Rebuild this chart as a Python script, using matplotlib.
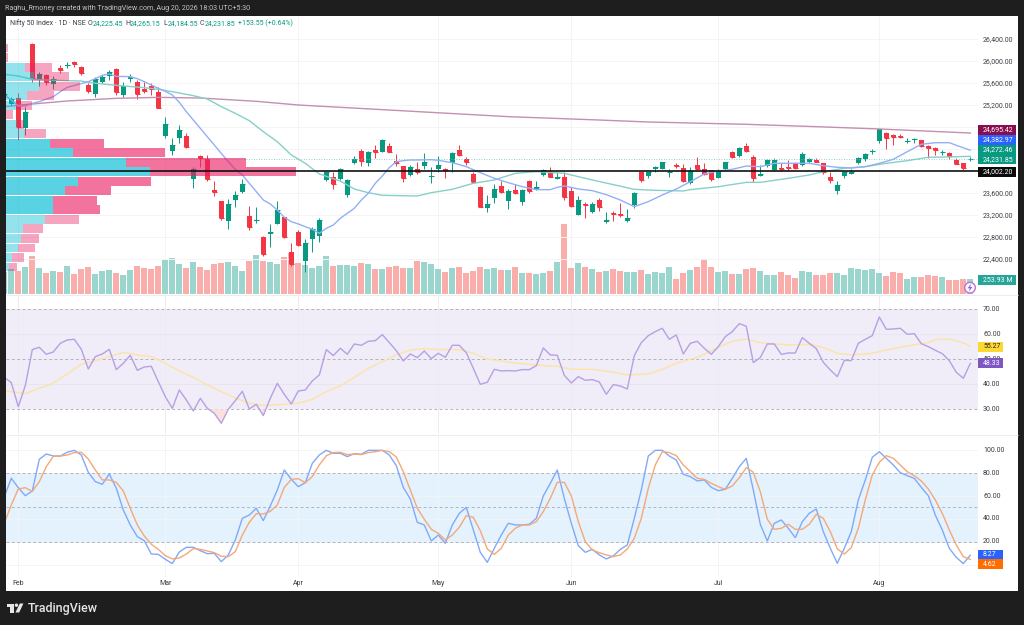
import matplotlib
matplotlib.use("Agg")
import matplotlib.pyplot as plt
from matplotlib.patches import Rectangle, Circle, Polygon
import numpy as np

opens = [25344, 25223, 25326, 24787, 26308, 25660, 25744, 25587, 25878, 25908,
         25993, 25890, 25563, 25405, 25623, 25732, 25866, 25393, 25672, 25623,
         25502, 25551, 25447, 24642, 24369, 24605, 24648, 23854, 24278, 24223,
         23660, 23454, 23102, 23478, 23617, 23187, 23096, 22811, 22866, 23048,
         23163, 22533, 22896, 22369, 22769, 22830, 23842, 23896, 23860, 23575,
         24145, 24375, 24157, 24381, 24357, 24466, 24193, 24090, 23933, 24036,
         24090, 23902, 24042, 24036, 24157, 24381, 24223, 23951, 23714, 23339,
         23514, 23726, 23466, 23666, 23448, 23817, 23666, 23926, 23981, 23866,
         23896, 23642, 23211, 23411, 23260, 23472, 23072, 23248, 23223, 23090,
         23387, 23987, 23914, 24042, 24048, 23981, 24114, 24060, 23787, 24114,
         24042, 24017, 23884, 24036, 24357, 24284, 24454, 24254, 23920, 24102,
         24017, 24060, 24084, 24132, 24114, 24175, 24199, 24145, 23902, 23642,
         23914, 23957, 24157, 24223, 24351, 24557, 24696, 24660, 24642, 24526,
         24569, 24563, 24460, 24423, 24345, 24338, 24211, 24145, 24225.45]
closes = [25399, 25308, 24799, 25072, 25702, 25769, 25623, 25678, 25841, 25932,
          25944, 25793, 25454, 25672, 25708, 25805, 25435, 25557, 25708, 25411,
          25466, 25490, 25157, 24854, 24472, 24757, 24435, 24036, 24248, 23854,
          23623, 23145, 23399, 23575, 23769, 22993, 23114, 22502, 22902, 23296,
          22805, 22314, 22660, 22690, 22951, 23114, 23993, 23763, 24042, 23836,
          24223, 24193, 24345, 24351, 24569, 24357, 24145, 23884, 24078, 23981,
          24169, 23914, 24108, 24017, 24326, 24302, 24163, 23799, 23357, 23399,
          23684, 23629, 23642, 23605, 23654, 23636, 23708, 24017, 23902, 23896,
          23539, 23363, 23472, 23393, 23405, 23351, 23114, 23223, 23199, 23157,
          23611, 23842, 23981, 24078, 24163, 23993, 24102, 23817, 24011, 24042,
          23945, 23854, 24011, 24163, 24260, 24423, 24375, 23872, 23951, 24199,
          24205, 24036, 24066, 24054, 24320, 24229, 24175, 23987, 23848, 23757,
          23987, 23987, 24242, 24308, 24375, 24763, 24599, 24617, 24630, 24557,
          24581, 24460, 24417, 24381, 24357, 24284, 24139, 24060, 24231.85]
highs = [25448, 25357, 25429, 25175, 26338, 25811, 25769, 25732, 25926, 25981,
         26005, 25914, 25611, 25708, 25750, 25841, 25878, 25629, 25769, 25660,
         25629, 25599, 25526, 24981, 24599, 24841, 24690, 24084, 24302, 24296,
         23829, 23466, 23490, 23648, 23860, 23369, 23345, 22830, 23042, 23454,
         23175, 22702, 22933, 22769, 22981, 23145, 24011, 23993, 24060, 23854,
         24278, 24399, 24363, 24478, 24587, 24508, 24308, 24102, 24114, 24175,
         24326, 24084, 24278, 24066, 24345, 24478, 24254, 23993, 23732, 23569,
         23763, 23823, 23678, 23769, 23678, 23842, 23823, 24048, 24084, 23981,
         23993, 23720, 23551, 23448, 23448, 23508, 23254, 23284, 23417, 23314,
         23629, 23993, 23993, 24102, 24175, 24036, 24157, 24126, 24084, 24254,
         24145, 24023, 24036, 24175, 24375, 24435, 24514, 24296, 24114, 24217,
         24248, 24145, 24205, 24163, 24345, 24248, 24248, 24157, 23981, 23823,
         24005, 24036, 24266, 24326, 24411, 24775, 24708, 24678, 24672, 24611,
         24611, 24575, 24478, 24435, 24393, 24351, 24248, 24157, 24265.15]
lows = [25296, 25187, 24569, 24660, 25629, 25551, 25569, 25490, 25781, 25872,
        25890, 25750, 25429, 25357, 25599, 25660, 25387, 25357, 25629, 25320,
        25429, 25387, 25144, 24599, 24296, 24520, 24417, 23690, 24084, 23829,
        23551, 23114, 22951, 23345, 23599, 22933, 23054, 22460, 22630, 23036,
        22793, 22278, 22642, 22175, 22539, 22720, 23823, 23678, 23842, 23539,
        24132, 24096, 24102, 24235, 24345, 24345, 24102, 23811, 23914, 23945,
        24048, 23793, 23993, 23884, 23993, 24278, 24114, 23781, 23345, 23254,
        23430, 23611, 23314, 23581, 23387, 23599, 23654, 23914, 23890, 23860,
        23478, 23351, 23199, 23151, 23248, 23272, 23060, 23096, 23175, 23072,
        23327, 23805, 23878, 23981, 24036, 23902, 24060, 23799, 23769, 24023,
        23933, 23829, 23872, 24023, 24248, 24266, 24351, 23799, 23908, 24084,
        23999, 24011, 23999, 24042, 24102, 24145, 24163, 23951, 23793, 23587,
        23878, 23951, 24139, 24193, 24308, 24514, 24411, 24478, 24599, 24514,
        24514, 24435, 24248, 24302, 24290, 24230, 24126, 24023, 24184.55]
volumes = [380, 425, 386, 465, 641, 442, 357, 386, 369, 476,
           340, 425, 459, 340, 386, 414, 352, 318, 408, 476,
           437, 425, 476, 578, 607, 510, 442, 539, 454, 414,
           510, 527, 550, 476, 397, 556, 669, 556, 550, 510,
           624, 697, 527, 499, 437, 482, 643, 471, 493, 499,
           471, 522, 510, 425, 431, 454, 471, 442, 442, 556,
           539, 510, 425, 380, 442, 454, 352, 391, 454, 425,
           437, 414, 403, 454, 357, 357, 346, 357, 391, 539,
           1191, 437, 522, 465, 425, 380, 391, 420, 391, 374,
           369, 408, 340, 369, 352, 454, 261, 352, 408, 465,
           595, 465, 369, 386, 340, 340, 425, 437, 397, 323,
           329, 369, 329, 272, 397, 369, 329, 323, 363, 352,
           329, 442, 431, 414, 420, 352, 312, 369, 357, 261,
           284, 284, 329, 312, 284, 232, 238, 249, 253.93]

ma_fast_idx = [0, 1, 2, 3, 4, 5, 7, 8, 9, 12, 13, 14, 15, 16, 18, 19, 20, 22, 23, 24,
               25, 26, 27, 28, 29, 30, 31, 32, 33, 34, 35, 36, 37, 38, 39, 40, 41, 42, 43, 44,
               45, 46, 47, 48, 49, 50, 51, 52, 53, 54, 55, 56, 57, 58, 59, 61, 62, 64, 66, 68,
               70, 72, 74, 76, 78, 79, 80, 82, 84, 86, 88, 90, 92, 94, 96, 98, 100, 102, 104, 106,
               108, 110, 113, 115, 117, 119, 121, 123, 125, 127, 129, 131, 133, 135, 136, 138]
ma_fast = [25387, 25296, 25187, 25187, 25235, 25266, 25357, 25447, 25526, 25629, 25684, 25744, 25769, 25726, 25720, 25684, 25629, 25508, 25454, 25387,
           25254, 25084, 24932, 24781, 24629, 24478, 24326, 24175, 24036, 23933, 23781, 23630, 23478, 23405, 23296, 23163, 23084, 23042, 22993, 22945,
           22872, 22963, 23023, 23145, 23236, 23327, 23478, 23599, 23781, 23914, 24066, 24175, 24193, 24205, 24205, 24211, 24199, 24157, 24084, 23975,
           23872, 23793, 23720, 23666, 23666, 23708, 23733, 23678, 23648, 23575, 23478, 23357, 23448, 23569, 23678, 23811, 23951, 24005, 24036, 24096,
           24084, 24145, 24145, 24145, 24102, 24072, 24060, 24084, 24145, 24217, 24357, 24490, 24520, 24520, 24472, 24382.97]
ma_mid_idx = [0, 2, 4, 7, 11, 12, 14, 17, 20, 22, 24, 27, 29, 31, 33, 35, 37, 39, 41, 43,
              45, 48, 50, 52, 54, 59, 61, 64, 67, 70, 73, 76, 80, 84, 90, 93, 97, 98, 102, 106,
              108, 112, 115, 117, 120, 123, 126, 129, 132, 135, 138]
ma_mid = [25763, 25732, 25672, 25654, 25641, 25617, 25587, 25551, 25520, 25490, 25447, 25375, 25314, 25175, 25054, 24920, 24720, 24538, 24296, 24145,
          23951, 23823, 23678, 23611, 23563, 23551, 23611, 23672, 23781, 23842, 23963, 23993, 23963, 23842, 23672, 23654, 23642, 23666, 23720, 23799,
          23799, 23872, 23933, 23993, 24054, 24084, 24145, 24193, 24254, 24260, 24272.46]
ma_slow_idx = [0, 2, 4, 9, 16, 22, 28, 36, 42, 48, 60, 72, 85, 92, 106, 116, 125, 138]
ma_slow = [25175, 25199, 25223, 25278, 25326, 25344, 25332, 25272, 25205, 25163, 25078, 24993, 24932, 24896, 24854, 24811, 24769, 24695.42]

# visible range volume profile, one row per price bucket
vp_lows = [26160, 25987, 25814, 25641, 25468, 25295, 25122, 24949, 24776, 24603, 24430, 24257,
           24084, 23911, 23738, 23565, 23392, 23219, 23046, 22873, 22700, 22527, 22354, 22181]
vp_up = [0, 0, 56, 83, 100, 63, 30, 0, 33, 55, 131, 200,
         361, 433, 216, 178, 142, 142, 118, 52, 45, 36, 19, 10]
vp_down = [5, 5, 82, 105, 122, 82, 48, 21, 22, 66, 164, 277,
           358, 438, 220, 138, 132, 139, 102, 58, 53, 50, 34, 23]
vp_strong = [0, 0, 0, 0, 0, 0, 0, 0, 0, 0, 1, 1, 1, 1, 1, 1, 1, 1, 0, 0, 0, 0, 0, 0]

rsi = [42.8, 40.67, 31.07, 39.47, 53.87, 54.8, 52.0, 52.93, 56.4, 57.73,
       58.0, 54.0, 46.13, 51.07, 52.13, 54.0, 45.87, 48.4, 51.6, 45.6,
       46.93, 47.2, 41.07, 35.07, 30.4, 37.73, 33.73, 29.33, 34.4, 30.4,
       28.4, 24.4, 30.0, 33.47, 37.2, 30.13, 32.0, 27.47, 34.4, 40.4,
       36.0, 32.13, 37.33, 37.73, 41.33, 43.73, 53.87, 51.47, 54.4, 52.0,
       56.13, 55.6, 57.2, 57.47, 59.87, 56.67, 53.47, 49.33, 52.13, 50.67,
       53.33, 50.27, 52.4, 50.8, 55.6, 55.6, 52.67, 46.4, 40.0, 40.8,
       46.0, 45.33, 45.47, 45.33, 45.87, 45.87, 47.47, 54.53, 51.73, 51.6,
       43.6, 40.53, 43.07, 41.6, 41.87, 40.93, 36.0, 39.87, 39.33, 38.13,
       51.47, 56.67, 59.47, 61.07, 62.4, 58.0, 59.73, 52.13, 56.4, 57.2,
       54.4, 52.0, 55.07, 59.07, 61.07, 64.27, 63.2, 48.67, 50.67, 56.13,
       56.13, 52.0, 52.53, 52.53, 58.67, 56.4, 54.27, 48.8, 45.73, 43.07,
       49.6, 49.47, 56.4, 58.0, 59.47, 66.93, 62.0, 62.13, 62.4, 60.0,
       60.27, 56.27, 55.07, 53.6, 52.27, 49.47, 44.8, 42.4, 48.33]
rsi_ma_idx = [0, 3, 5, 7, 9, 11, 13, 15, 17, 19, 21, 23, 25, 27, 29, 31, 33, 35, 37, 40,
              42, 44, 46, 48, 50, 52, 54, 56, 58, 60, 62, 65, 67, 69, 71, 72, 77, 79, 81, 84,
              87, 89, 92, 94, 96, 99, 102, 104, 106, 108, 110, 112, 115, 117, 119, 121, 124, 126, 129, 132,
              133, 135, 137, 138]
rsi_ma = [37.47, 36.27, 38.4, 40.4, 44.13, 48.0, 49.47, 51.07, 52.8, 51.73, 51.07, 48.4, 45.33, 42.8, 39.73, 37.07, 34.53, 32.4, 31.47, 32.0,
          32.4, 34.0, 37.07, 39.33, 42.8, 46.4, 49.07, 51.73, 53.73, 54.27, 53.87, 53.87, 52.4, 50.13, 49.33, 48.8, 47.47, 47.2, 46.0, 46.0,
          44.8, 43.73, 44.13, 46.0, 48.4, 50.8, 54.8, 57.2, 58.13, 56.67, 56.13, 55.73, 56.0, 54.67, 52.4, 51.73, 52.4, 53.73, 55.33, 56.67,
          57.87, 58.13, 56.53, 55.27]

stoch_k = [59.5, 75.5, 67.3, 60.3, 64.4, 92.1, 96.8, 95.0, 95.0, 98.3,
           100, 95.9, 80.8, 72.6, 70.3, 79.3, 66.8, 47.8, 34.7, 24.5,
           21.0, 9.3, 9.0, 4.7, 0.9, 11.1, 15.2, 15.2, 12.2, 9.6,
           9.9, 2.6, 8.5, 21.6, 40.5, 43.4, 49.3, 38.5, 51.3, 65.3,
           82.8, 74.6, 68.2, 71.7, 88.6, 95.9, 100, 97.4, 97.4, 94.5,
           97.1, 96.5, 100, 100, 100, 95.9, 86.6, 67.6, 57.4, 37.0,
           34.7, 20.7, 25.9, 18.7, 34.7, 44.9, 50.1, 30.3, 10.8, 2.0,
           14.3, 25.9, 36.2, 34.7, 34.7, 35.3, 40.5, 60.1, 71.1, 82.8,
           58.0, 36.2, 16.6, 10.8, 13.4, 8.5, 5.0, 7.6, 13.4, 17.2,
           40.5, 65.3, 95.0, 100, 100, 95.0, 91.5, 79.0, 77.0, 73.2,
           74.1, 67.6, 64.7, 65.9, 75.5, 85.7, 93.0, 65.3, 35.3, 20.7,
           36.2, 39.1, 31.8, 23.6, 37.6, 44.9, 48.7, 28.9, 14.3, 1.2,
           14.3, 28.9, 56.6, 74.1, 93.9, 98.8, 93.0, 87.2, 80.5, 77.8,
           75.5, 67.6, 60.3, 43.4, 30.3, 14.3, 6.4, 0.9, 8.27]
stoch_d = [36.2, 52.2, 66.2, 67.3, 64.1, 72.6, 85.7, 94.8, 95.0, 95.9,
           98.0, 98.3, 92.4, 82.8, 74.1, 74.1, 72.0, 64.4, 49.3, 34.7,
           25.1, 17.8, 13.4, 7.9, 5.0, 5.8, 9.3, 14.0, 13.4, 12.0,
           10.5, 7.3, 7.0, 11.4, 25.9, 37.0, 44.6, 44.3, 46.6, 52.2,
           67.6, 74.6, 75.2, 71.7, 77.0, 87.2, 95.3, 98.0, 98.3, 96.2,
           96.8, 96.2, 98.0, 98.8, 100, 98.8, 94.2, 81.3, 65.3, 49.3,
           39.7, 30.9, 27.4, 21.6, 25.9, 32.7, 42.9, 41.4, 29.7, 13.7,
           9.0, 14.3, 25.9, 31.8, 34.7, 34.7, 37.6, 46.4, 58.0, 72.0,
           72.0, 60.3, 37.6, 20.1, 12.8, 10.5, 8.5, 7.0, 8.5, 13.7,
           23.0, 40.5, 66.8, 87.2, 98.8, 98.0, 95.3, 87.2, 81.3, 75.5,
           74.6, 71.1, 68.2, 65.9, 68.8, 76.1, 84.8, 80.8, 63.8, 39.7,
           30.9, 31.8, 35.3, 30.9, 30.9, 35.3, 44.0, 40.5, 28.9, 13.7,
           9.3, 14.9, 31.8, 56.6, 78.4, 89.5, 95.3, 93.0, 87.2, 81.3,
           77.8, 73.2, 66.2, 56.6, 44.9, 30.3, 17.2, 7.0, 4.62]

month_labels = ["Feb", "Mar", "Apr", "May", "Jun", "Jul", "Aug"]
month_idx = [2, 23, 42, 62, 81, 102, 125]
price_ticks = [22400, 22800, 23200, 23600, 24000, 24400, 24800, 25200, 25600, 26000, 26400]
rsi_ticks = [30, 40, 50, 60, 70]
stoch_ticks = [0, 20, 40, 60, 80, 100]

W, H = 1024, 625
UP = "#089981"
DOWN = "#F23645"
GRID = "#F4F4F5"
TICK = "#3A3D45"
FS = 5.0
plt.rcParams["font.family"] = ["Roboto", "DejaVu Sans"]

fig = plt.figure(figsize=(W / 100, H / 100), dpi=100, facecolor="#1E1E1E")


def pane(x0, y0, x1, y1, zorder=1):
    # axes placed by pixel box, y measured from the top
    ax = fig.add_axes([x0 / W, 1 - y1 / H, (x1 - x0) / W, (y1 - y0) / H], zorder=zorder)
    ax.set_xticks([])
    ax.set_yticks([])
    for s in ax.spines.values():
        s.set_visible(False)
    return ax


ui = pane(0, 0, W, H, zorder=5)
ui.set_xlim(0, W)
ui.set_ylim(H, 0)
ui.patch.set_alpha(0)
back = pane(6, 16, 1018, 591, zorder=0)
back.set_facecolor("white")

x = np.arange(len(closes))
XLIM = (0.243, 139.1)
PRICE_LIM = (21769, 26823)
PANE_L, PANE_R = 6, 978

# volume sits behind the candles
ax_vol = pane(PANE_L, 16, PANE_R, 294, zorder=1)
ax_vol.set_xlim(*XLIM)
ax_vol.set_ylim(0, 4726)
for m in month_idx:
    ax_vol.axvline(m, color=GRID, lw=0.7, zorder=0)
is_up = np.array(closes) >= np.array(opens)
ax_vol.bar(x, volumes, width=0.88, color=np.where(is_up, "#9AD6CE", "#F9AEAC"), zorder=2)

ax = pane(PANE_L, 16, PANE_R, 294, zorder=2)
ax.patch.set_alpha(0)
ax.set_xlim(*XLIM)
ax.set_ylim(*PRICE_LIM)
for p in price_ticks:
    ax.axhline(p, color=GRID, lw=0.7, zorder=0)
candle_colors = np.where(is_up, UP, DOWN)
ax.vlines(x, lows, highs, color=candle_colors, lw=0.7, zorder=2)
ax.bar(x, np.array(closes) - np.array(opens), bottom=opens, width=0.68,
       color=candle_colors, zorder=3)
# doji bodies would vanish without a minimum height
ax.hlines(closes, x - 0.34, x + 0.34, color=candle_colors, lw=0.8, zorder=3)
ax.plot(ma_slow_idx, ma_slow, color="#C48FB0", lw=1.0, zorder=4)
ax.plot(ma_mid_idx, ma_mid, color="#86D0C8", lw=1.0, zorder=4)
ax.plot(ma_fast_idx, ma_fast, color="#93AFF8", lw=1.0, zorder=4)
ax.axhline(closes[-1], color="#6CC5B8", lw=0.6, ls=(0, (1, 2)), zorder=4)

# profile overlays the candles, its x axis is just a width scale
ax_vp = pane(PANE_L, 16, PANE_R, 294, zorder=3)
ax_vp.patch.set_alpha(0)
ax_vp.set_xlim(0, (PANE_R - PANE_L) * 3)
ax_vp.set_ylim(*PRICE_LIM)
for low, up, down, strong in zip(vp_lows, vp_up, vp_down, vp_strong):
    ax_vp.barh(low, up, height=160, align="edge", color="#00BCD4", alpha=0.65 if strong else 0.42, lw=0)
    ax_vp.barh(low, down, left=up, height=160, align="edge", color="#E91E63", alpha=0.62 if strong else 0.40, lw=0)
ax_vp.axhline(24002.20, color="#111111", lw=1.2, zorder=6)

# RSI
ax_rsi = pane(PANE_L, 295, PANE_R, 434, zorder=1)
ax_rsi.set_xlim(*XLIM)
ax_rsi.set_ylim(20.12, 75.72)
ax_rsi.axhspan(30, 70, color="#F0ECF8", lw=0, zorder=0)
for m in month_idx:
    ax_rsi.axvline(m, color="#EDEAF3", lw=0.7, zorder=1)
for t in [40, 60]:
    ax_rsi.axhline(t, color="#E8E5F0", lw=0.7, zorder=1)
for t in [30, 50, 70]:
    ax_rsi.axhline(t, color="#B4B4BC", lw=0.7, ls=(0, (3, 2.5)), zorder=2)
rsi_arr = np.array(rsi)
ax_rsi.fill_between(x, rsi_arr, 30, where=rsi_arr < 30, interpolate=True, color="#FBE1DE", lw=0, zorder=2)
ax_rsi.plot(rsi_ma_idx, rsi_ma, color="#FBE4A6", lw=1.0, zorder=3)
ax_rsi.plot(x, rsi, color="#B6A1E2", lw=1.0, zorder=4)

# Stochastic
ax_st = pane(PANE_L, 435, PANE_R, 577, zorder=1)
ax_st.set_xlim(*XLIM)
ax_st.set_ylim(-10.8, 113.4)
ax_st.axhspan(20, 80, color="#E4F2FD", lw=0, zorder=0)
for m in month_idx:
    ax_st.axvline(m, color=GRID, lw=0.7, zorder=1)
for t in stoch_ticks:
    ax_st.axhline(t, color=GRID, lw=0.7, zorder=1)
for t in [20, 50, 80]:
    ax_st.axhline(t, color="#B4B4BC", lw=0.7, ls=(0, (3, 2.5)), zorder=2)
ax_st.plot(x, stoch_k, color="#82A9F8", lw=1.0, zorder=3)
ax_st.plot(x, stoch_d, color="#F5A878", lw=1.0, zorder=4)

# separators between panes
ui.hlines([294.5, 435], PANE_L, 1018, color="#EDEDED", lw=0.8)

# header and legend text
ui.text(5.3, 8, "Raghu_Rmoney created with TradingView.com, Aug 20, 2026 18:03 UTC+5:30",
        color="#C4C4C4", fontsize=5.1, va="center")
ui.text(10, 23.3, "Nifty 50 Index · 1D · NSE", color="#3A3D45", fontsize=FS, va="center")
for lx, label, vx, val in [(88, "O", 93, "24,225.45"), (125.7, "H", 130, "24,265.15"),
                           (163.7, "L", 168, "24,184.55"), (200, "C", 205, "24,231.85")]:
    ui.text(lx, 23.3, label, color="#3A3D45", fontsize=FS, va="center")
    ui.text(vx, 23.3, val, color=UP, fontsize=FS, va="center")
ui.text(238, 23.3, "+153.55 (+0.64%)", color=UP, fontsize=FS, va="center")

# axis tick labels, mapped with each pane's own transform
def tick_label(axis, value, text):
    py = axis.transData.transform((1, value))[1]
    ui.text(983, H - py, text, color=TICK, fontsize=FS, va="center")


for p in price_ticks:
    tick_label(ax, p, f"{p:,.2f}")
for t in rsi_ticks:
    tick_label(ax_rsi, t, f"{t:.2f}")
for t in stoch_ticks[1:]:
    tick_label(ax_st, t, f"{t:.2f}")
for m, label in zip(month_idx, month_labels):
    px = ax_st.transData.transform((m, 0))[0]
    ui.text(px, 583.3, label, color=TICK, fontsize=FS, ha="center", va="center")


def price_tag(y, text, bg, fg="white", x0=978, x1=1016):
    ui.add_patch(Rectangle((x0, y - 5), x1 - x0, 10, facecolor=bg, lw=0, zorder=3))
    ui.text(983, y, text, color=fg, fontsize=FS, va="center", zorder=4)


price_tag(130, "24,695.42", "#880E4F")
price_tag(139.7, "24,382.97", "#2962FF")
price_tag(149.7, "24,272.46", "#089981")
price_tag(159.3, "24,231.85", "#089981")
price_tag(172, "24,002.20", "#0B0B0B")
price_tag(280, "253.93 M", "#26A69A")
price_tag(346.7, "55.27", "#FDD835", fg="#222222", x1=1003)
price_tag(363.3, "48.33", "#7E57C2", x1=1003)
price_tag(555, "8.27", "#2962FF", x1=1003)
price_tag(564.3, "4.62", "#FF6D00", x1=1003)

# lightning badge near the last volume bar
ui.add_patch(Circle((970, 287.7), 5.3, facecolor="white", edgecolor="#BE6FDE", lw=1.0, zorder=3))
ui.add_patch(Polygon([(971.2, 283.6), (967.6, 288.3), (969.8, 288.3), (968.8, 291.8), (972.4, 287), (970.2, 287)],
                     closed=True, facecolor="#9C5BD0", lw=0, zorder=4))

# TradingView footer logo
LOGO = "#E6E6E6"
ui.add_patch(Polygon([(6.7, 603.5), (14, 603.5), (14, 612.5), (10.4, 612.5), (10.4, 606.8), (6.7, 606.8)],
                     closed=True, facecolor=LOGO, lw=0))
ui.add_patch(Circle((16.4, 605.2), 1.7, facecolor=LOGO, lw=0))
ui.add_patch(Polygon([(19.8, 603.5), (23.4, 603.5), (19.2, 612.5), (15.4, 612.5)],
                     closed=True, facecolor=LOGO, lw=0))
ui.text(28, 608.3, "TradingView", color=LOGO, fontsize=9.0, fontweight="medium", va="center")

fig.savefig("out.png", dpi=100, facecolor=fig.get_facecolor())
